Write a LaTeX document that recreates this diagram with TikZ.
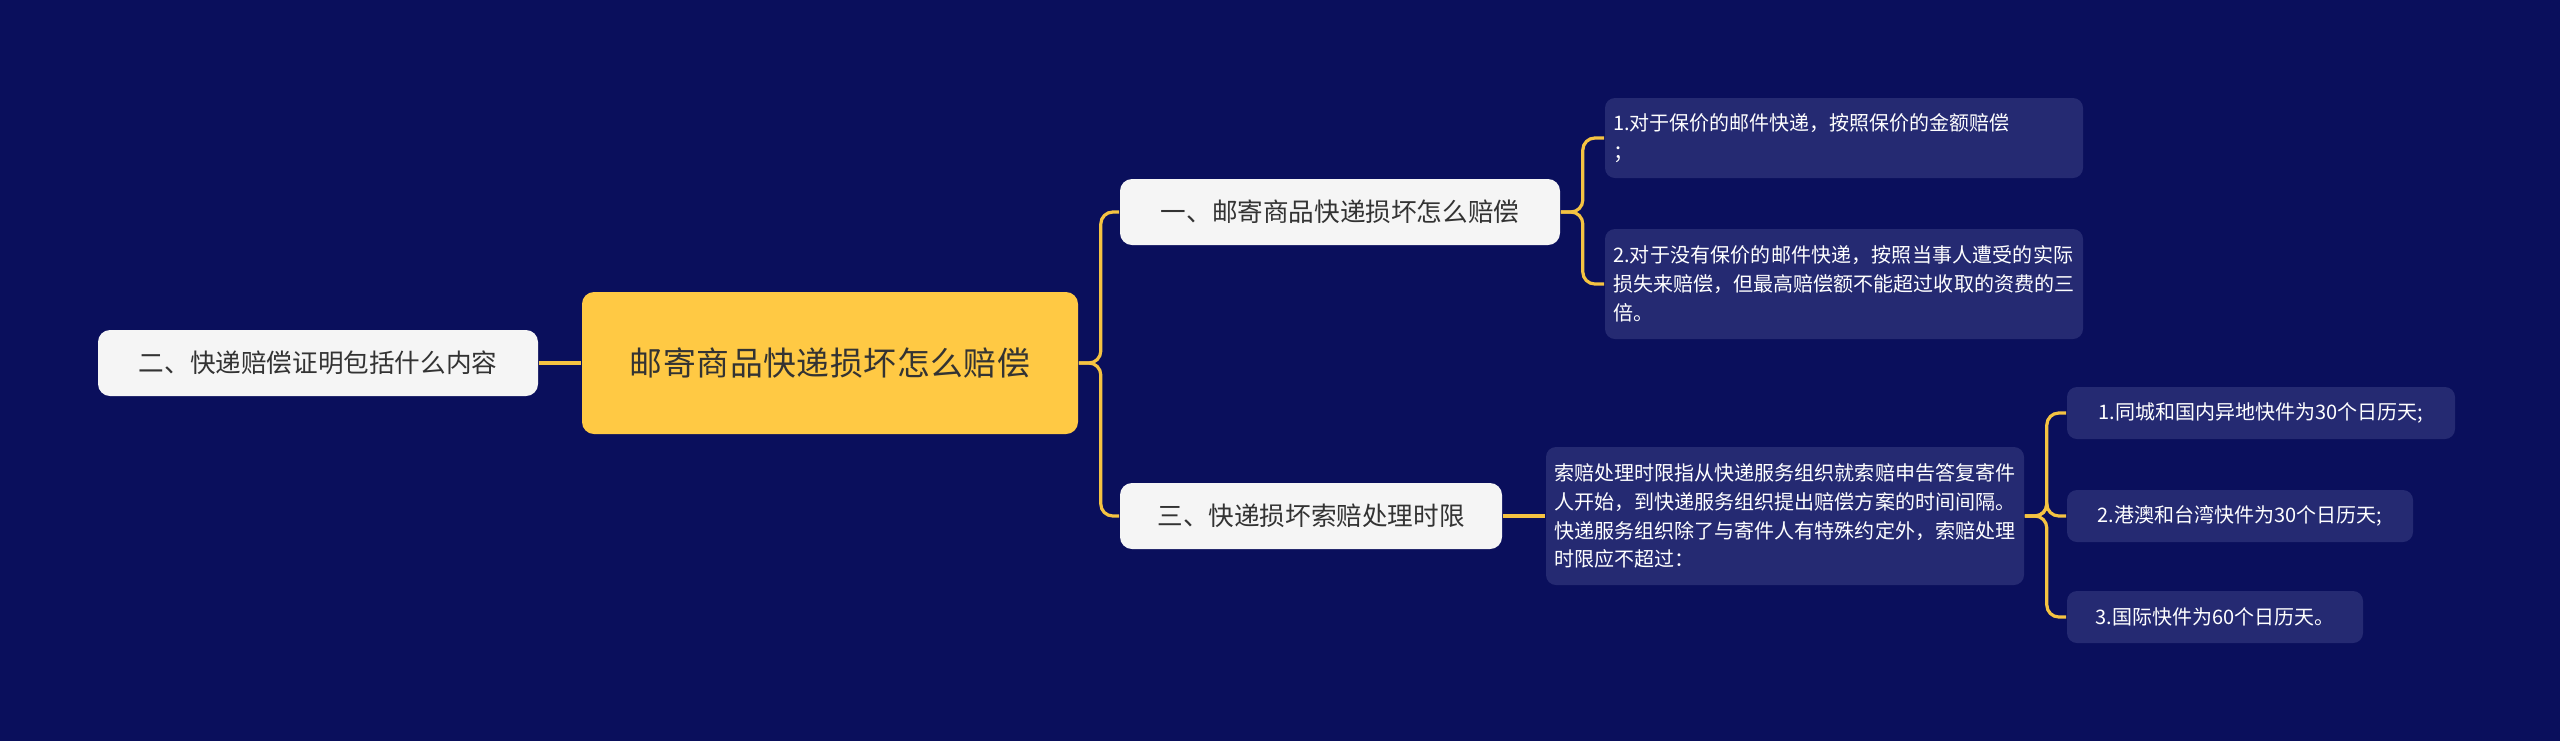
\documentclass[tikz,border=0pt]{standalone}
\usepackage{fontspec}
\setmainfont{Noto Sans CJK SC}
\XeTeXlinebreaklocale "zh"
\XeTeXlinebreakskip = 0pt plus 1pt
\usetikzlibrary{calc}
\definecolor{bgblue}{HTML}{0A0F5C}
\definecolor{rootyellow}{HTML}{FFC944}
\definecolor{leafblue}{HTML}{252A72}
\definecolor{linkyellow}{HTML}{F5C342}
\tikzstyle{rootbox} = [rectangle, rounded corners=3pt, fill=rootyellow, text=black!80, font=\fontsize{8.2}{10.5}\selectfont, text width=105pt, align=center, minimum width=124pt, minimum height=35.5pt]
\tikzstyle{mainbox} = [rectangle, rounded corners=3pt, fill=white!96!black, text=black!80, font=\fontsize{6.4}{8}\selectfont, minimum height=16.5pt, inner xsep=4pt]
\tikzstyle{leafbox} = [rectangle, rounded corners=2.5pt, fill=leafblue, text=white, font=\fontsize{5}{7.2}\selectfont, align=left, inner xsep=2pt]
\tikzstyle{link} = [draw=linkyellow, line width=0.8pt, rounded corners=3pt]

\begin{document}
\begin{tikzpicture}[x=0.25pt,y=-0.25pt]
\fill[bgblue] (0,0) rectangle (2560,741);
\useasboundingbox (0,0) rectangle (2560,741);

\node(root)[rootbox] at (830,363) {邮寄商品快递损坏怎么赔偿};
\node(left)[mainbox,minimum width=110pt] at (318,363) {二、快递赔偿证明包括什么内容};
\node(b1)[mainbox,minimum width=110pt] at (1340,212) {一、邮寄商品快递损坏怎么赔偿};
\node(b2)[mainbox,minimum width=95.5pt] at (1311,516) {三、快递损坏索赔处理时限};
\node(l1)[leafbox,text width=115.5pt,minimum height=20pt] at (1844,138) {1.对于保价的邮件快递，按照保价的金额赔偿\\；};
\node(l2)[leafbox,text width=115.5pt,minimum height=27.5pt] at (1844,284) {2.对于没有保价的邮件快递，按照当事人遭受的实际损失来赔偿，但最高赔偿额不能超过收取的资费的三倍。};
\node(desc)[leafbox,text width=115.5pt,minimum height=34.5pt] at (1785,516) {索赔处理时限指从快递服务组织就索赔申告答复寄件人开始，到快递服务组织提出赔偿方案的时间间隔。快递服务组织除了与寄件人有特殊约定外，索赔处理时限应不超过：};
\node(c1)[leafbox,minimum width=97pt,minimum height=13pt] at (2261,413) {1.同城和国内异地快件为30个日历天;};
\node(c2)[leafbox,minimum width=86.5pt,minimum height=13pt] at (2240,516) {2.港澳和台湾快件为30个日历天;};
\node(c3)[leafbox,minimum width=74pt,minimum height=13pt] at (2215,617) {3.国际快件为60个日历天。};

\draw[link] (left) -- (root);
\draw[link] (root.east) -- ++(22,0) |- (b1.west);
\draw[link] (root.east) -- ++(22,0) |- (b2.west);
\draw[link] (b1.east) -- ++(22,0) |- (l1.west);
\draw[link] (b1.east) -- ++(22,0) |- (l2.west);
\draw[link] (b2) -- (desc);
\draw[link] (desc.east) -- ++(22,0) |- (c1.west);
\draw[link] (desc.east) -- ++(22,0) |- (c2.west);
\draw[link] (desc.east) -- ++(22,0) |- (c3.west);
\end{tikzpicture}
\end{document}
